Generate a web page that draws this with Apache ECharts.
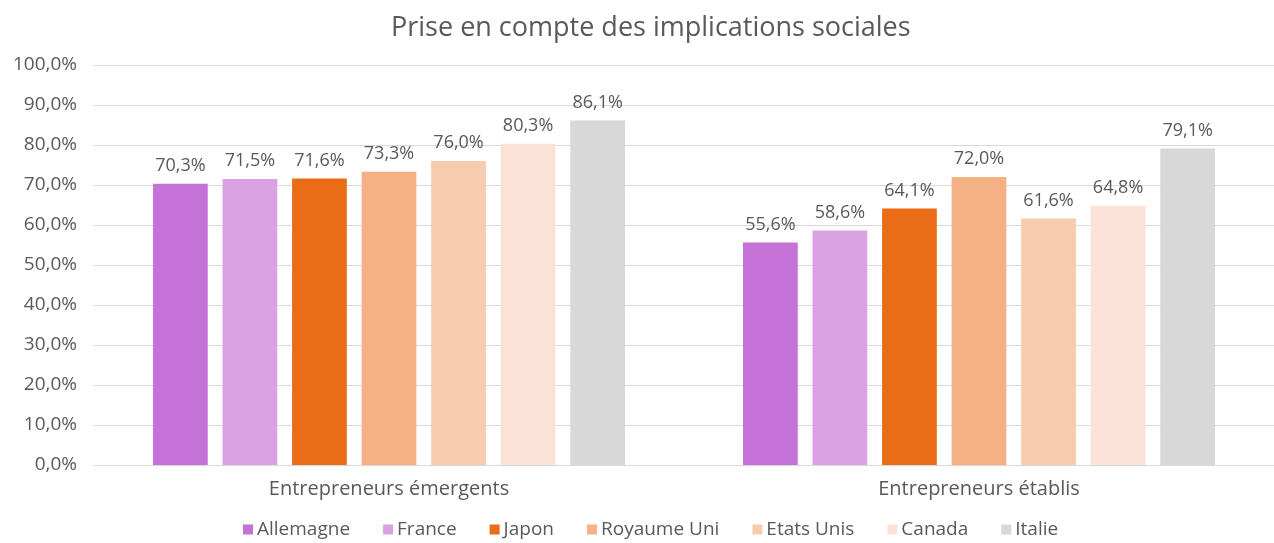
<!DOCTYPE html>
<html>
<head>
<meta charset="utf-8">
<script src="https://cdn.jsdelivr.net/npm/echarts@6/dist/echarts.min.js"></script>
<style>
  html, body { margin: 0; padding: 0; background: #fff; }
  #chart { width: 1274px; height: 543px; }
</style>
</head>
<body>
<div id="chart"></div>
<script>
// Groups along the x axis
const categories = ['Entrepreneurs émergents', 'Entrepreneurs établis'];

// One series per country, values in percent
const countries = ['Allemagne', 'France', 'Japon', 'Royaume Uni', 'Etats Unis', 'Canada', 'Italie'];
const allemagne = [70.3, 55.6];
const france = [71.5, 58.6];
const japon = [71.6, 64.1];
const royaumeUni = [73.3, 72.0];
const etatsUnis = [76.0, 61.6];
const canada = [80.3, 64.8];
const italie = [86.1, 79.1];
const seriesValues = [allemagne, france, japon, royaumeUni, etatsUnis, canada, italie];

const colors = ['#C572D8', '#DAA1E3', '#EB6C17', '#F4B185', '#F7CBAD', '#FAE3D6', '#D8D8D8'];

const fontFamily = '"Open Sans", Lato, sans-serif';
const textColor = '#595959';
const fmt = v => v.toFixed(1).replace('.', ',') + '%';

const chart = echarts.init(document.getElementById('chart'), null, { renderer: 'canvas' });

chart.setOption({
  animation: false,
  color: colors,
  textStyle: { fontFamily: fontFamily, color: textColor },
  title: {
    text: 'Prise en compte des implications sociales',
    left: 386,
    top: 10,
    textStyle: { fontFamily: fontFamily, fontSize: 27, fontWeight: 'normal', color: textColor }
  },
  legend: {
    top: 515,
    left: 238,
    itemWidth: 10,
    itemHeight: 10,
    itemGap: 33,
    icon: 'rect',
    textStyle: { fontFamily: fontFamily, fontSize: 19, color: textColor, padding: [0, 0, 0, -1] },
    data: countries
  },
  grid: { left: 94, right: 0, top: 65, bottom: 78, containLabel: false },
  xAxis: {
    type: 'category',
    data: categories,
    axisTick: { show: false },
    axisLine: { lineStyle: { color: '#D9D9D9' } },
    axisLabel: { fontFamily: fontFamily, fontSize: 20, color: textColor, margin: 14 }
  },
  yAxis: {
    type: 'value',
    min: 0,
    max: 100,
    interval: 10,
    axisLine: { show: false },
    axisTick: { show: false },
    splitLine: { lineStyle: { color: '#D9D9D9', width: 1 } },
    axisLabel: { fontFamily: fontFamily, fontSize: 19, color: textColor, margin: 17, formatter: fmt }
  },
  series: countries.map((name, i) => ({
    name: name,
    type: 'bar',
    data: seriesValues[i],
    barGap: '27%',
    barCategoryGap: '20%',
    itemStyle: { color: colors[i] },
    label: {
      show: true,
      position: 'top',
      distance: 9,
      fontFamily: fontFamily,
      fontSize: 18,
      color: textColor,
      formatter: p => fmt(p.value)
    }
  }))
});
</script>
</body>
</html>
